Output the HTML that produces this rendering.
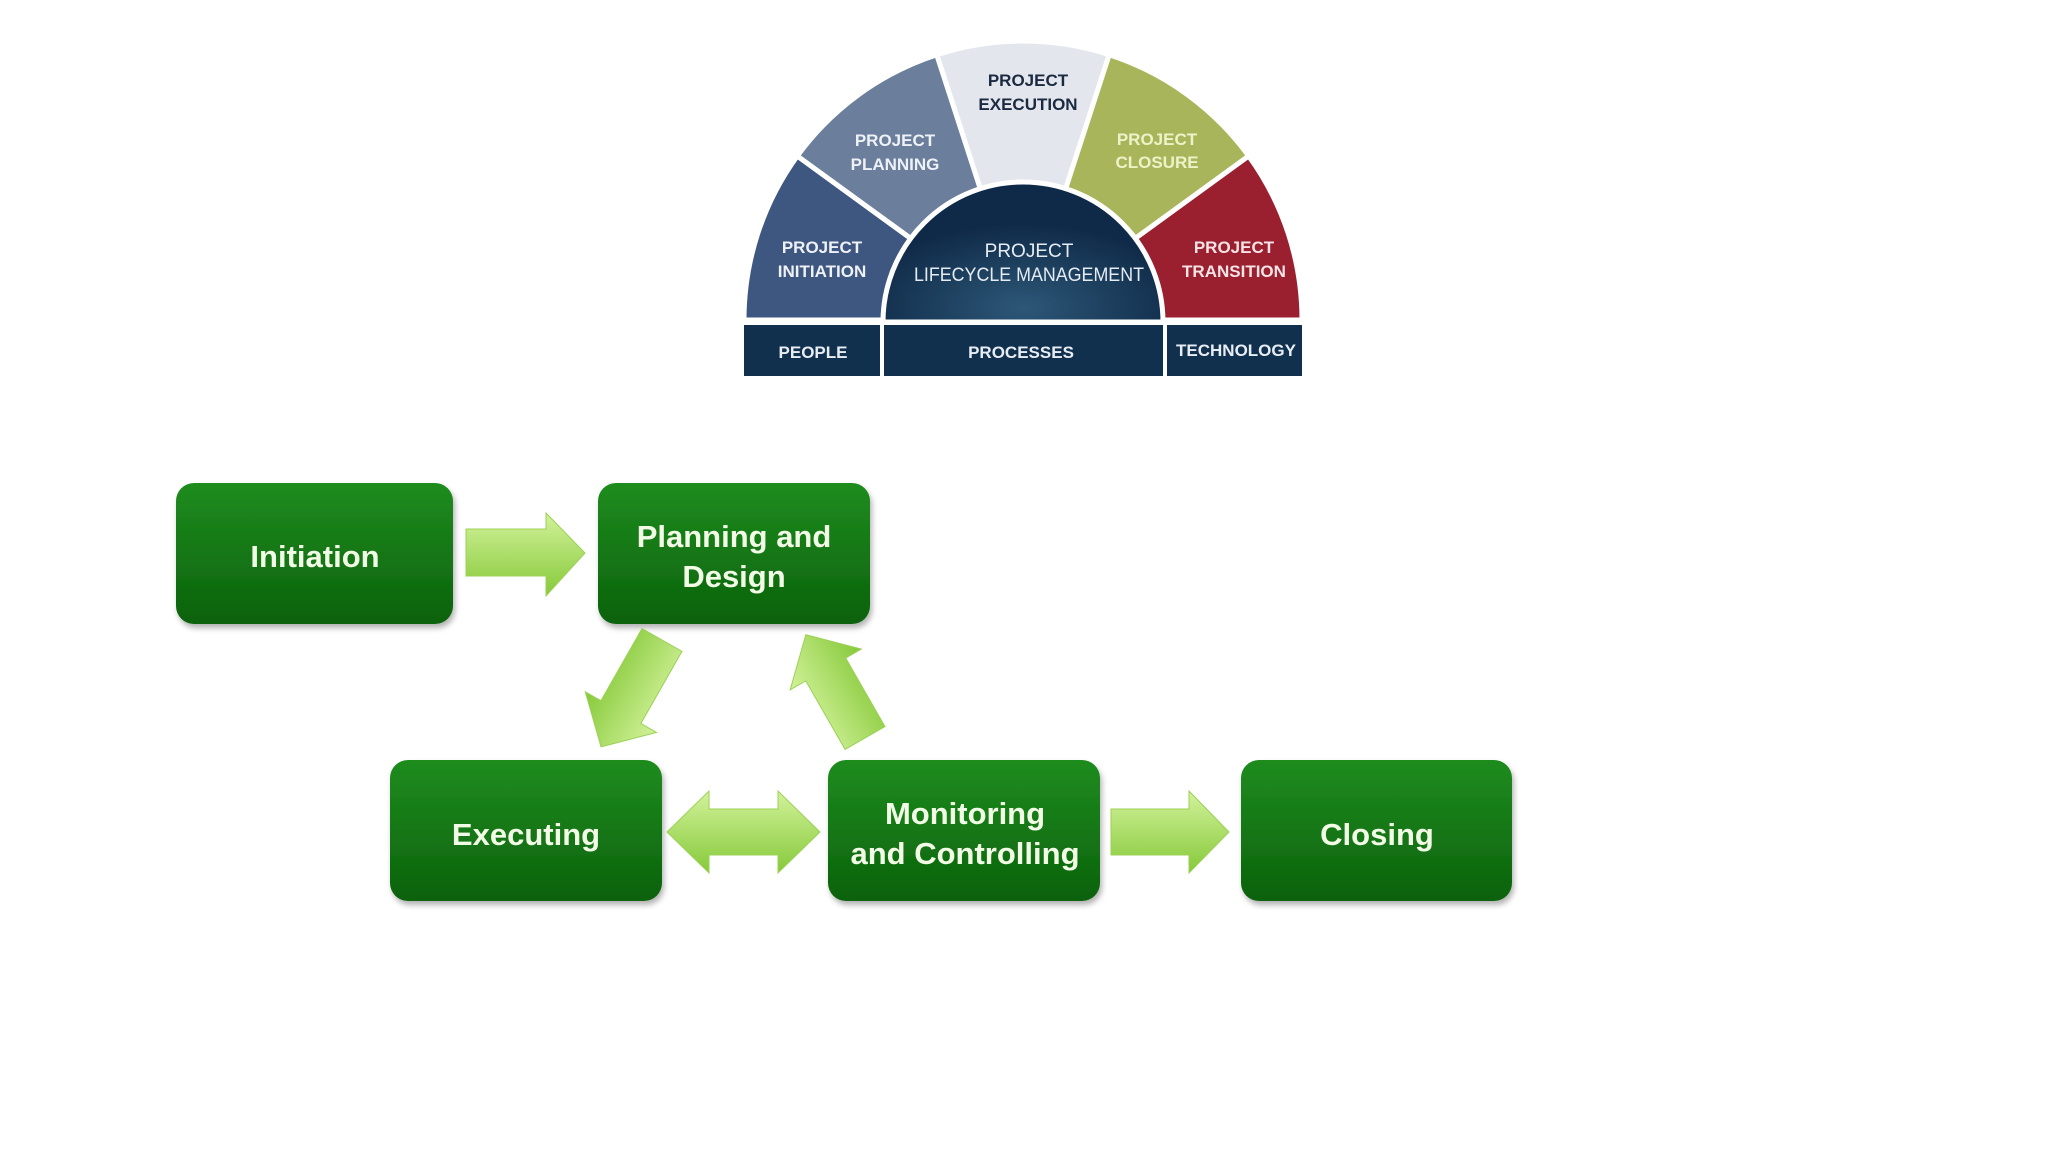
<!DOCTYPE html>
<html><head><meta charset="utf-8"><style>
html,body{margin:0;padding:0;background:#fff;}
svg{display:block;}
</style></head><body>
<svg width="2048" height="1152" viewBox="0 0 2048 1152" xmlns="http://www.w3.org/2000/svg" font-family="Liberation Sans, sans-serif">
<defs>
<linearGradient id="bx" x1="0" y1="0" x2="0" y2="1"><stop offset="0" stop-color="#1f8c1f"/><stop offset="1" stop-color="#0b620b"/></linearGradient>
<linearGradient id="ar" x1="0" y1="0" x2="0" y2="1"><stop offset="0" stop-color="#d2f29a"/><stop offset="1" stop-color="#86c93a"/></linearGradient>
<radialGradient id="ctr" cx="0.5" cy="0.9" r="0.6"><stop offset="0" stop-color="#2d5777"/><stop offset="1" stop-color="#0f2a48"/></radialGradient>
<filter id="sh" x="-10%" y="-10%" width="120%" height="130%"><feDropShadow dx="2" dy="4" stdDeviation="3" flood-color="#000" flood-opacity="0.3"/></filter>
</defs>
<g stroke="#fff" stroke-width="5">
<path d="M1023,320 L744,320 A279,279 0 0 1 797.3,156.0 Z" fill="#3e5780"/>
<path d="M1023,320 L797.3,156.0 A279,279 0 0 1 936.8,54.7 Z" fill="#6b7f9c"/>
<path d="M1023,320 L936.8,54.7 A279,279 0 0 1 1109.2,54.7 Z" fill="#e3e6ec"/>
<path d="M1023,320 L1109.2,54.7 A279,279 0 0 1 1248.7,156.0 Z" fill="#a9b55a"/>
<path d="M1023,320 L1248.7,156.0 A279,279 0 0 1 1302,320 Z" fill="#9a2030"/>
<path d="M883,322 A140,140 0 0 1 1163,322 Z" fill="url(#ctr)"/>
</g>
<rect x="744" y="325" width="136" height="51" fill="#10304d"/>
<rect x="884" y="325" width="279" height="51" fill="#10304d"/>
<rect x="1167" y="325" width="135" height="51" fill="#10304d"/>
<g font-weight="bold" font-size="17" text-anchor="middle">
<text x="1028" y="86" fill="#1a2a40">PROJECT</text><text x="1028" y="110" fill="#1a2a40">EXECUTION</text>
<text x="895" y="146" fill="#eef1f6">PROJECT</text><text x="895" y="170" fill="#eef1f6">PLANNING</text>
<text x="822" y="253" fill="#eef1f6">PROJECT</text><text x="822" y="277" fill="#eef1f6">INITIATION</text>
<text x="1157" y="145" fill="#eef2c8">PROJECT</text><text x="1157" y="168" fill="#eef2c8">CLOSURE</text>
<text x="1234" y="253" fill="#f6e3e5">PROJECT</text><text x="1234" y="277" fill="#f6e3e5">TRANSITION</text>
<text x="813" y="358" fill="#e8edf3">PEOPLE</text>
<text x="1021" y="358" fill="#e8edf3">PROCESSES</text>
<text x="1236" y="356" fill="#e8edf3">TECHNOLOGY</text>
</g>
<g font-size="19" text-anchor="middle" fill="#e6ecf3">
<text x="1029" y="257">PROJECT</text><text x="1029" y="281" textLength="230" lengthAdjust="spacingAndGlyphs">LIFECYCLE MANAGEMENT</text>
</g>
<g fill="url(#bx)" filter="url(#sh)">
<rect x="176" y="483" width="277" height="141" rx="18"/>
<rect x="598" y="483" width="272" height="141" rx="18"/>
<rect x="390" y="760" width="272" height="141" rx="18"/>
<rect x="828" y="760" width="272" height="141" rx="18"/>
<rect x="1241" y="760" width="271" height="141" rx="18"/>
</g>
<g fill="#f2fbe6" font-weight="bold" font-size="31" text-anchor="middle">
<text x="315" y="567">Initiation</text>
<text x="734" y="547">Planning and</text><text x="734" y="587">Design</text>
<text x="526" y="845">Executing</text>
<text x="965" y="824">Monitoring</text><text x="965" y="864">and Controlling</text>
<text x="1377" y="845">Closing</text>
</g>
<g fill="url(#ar)" stroke="#9bd155" stroke-width="1">
<polygon points="466,529 546,529 546,513 585,553 546,596 546,576 466,576"/>
<polygon points="667,832 709,791 709,809 778,809 778,791 820,832 778,873 778,855 709,855 709,873"/>
<polygon points="1111,809 1189,809 1189,791 1229,832 1189,873 1189,855 1111,855"/>
<g transform="translate(662,640) rotate(119.7)"><polygon points="0,-23 83,-23 83,-41 123,0 83,41 83,23 0,23"/></g>
<g transform="translate(865,738) rotate(-119.8)"><polygon points="0,-23 79,-23 79,-41 119,0 79,41 79,23 0,23"/></g>
</g>
</svg>
</body></html>
